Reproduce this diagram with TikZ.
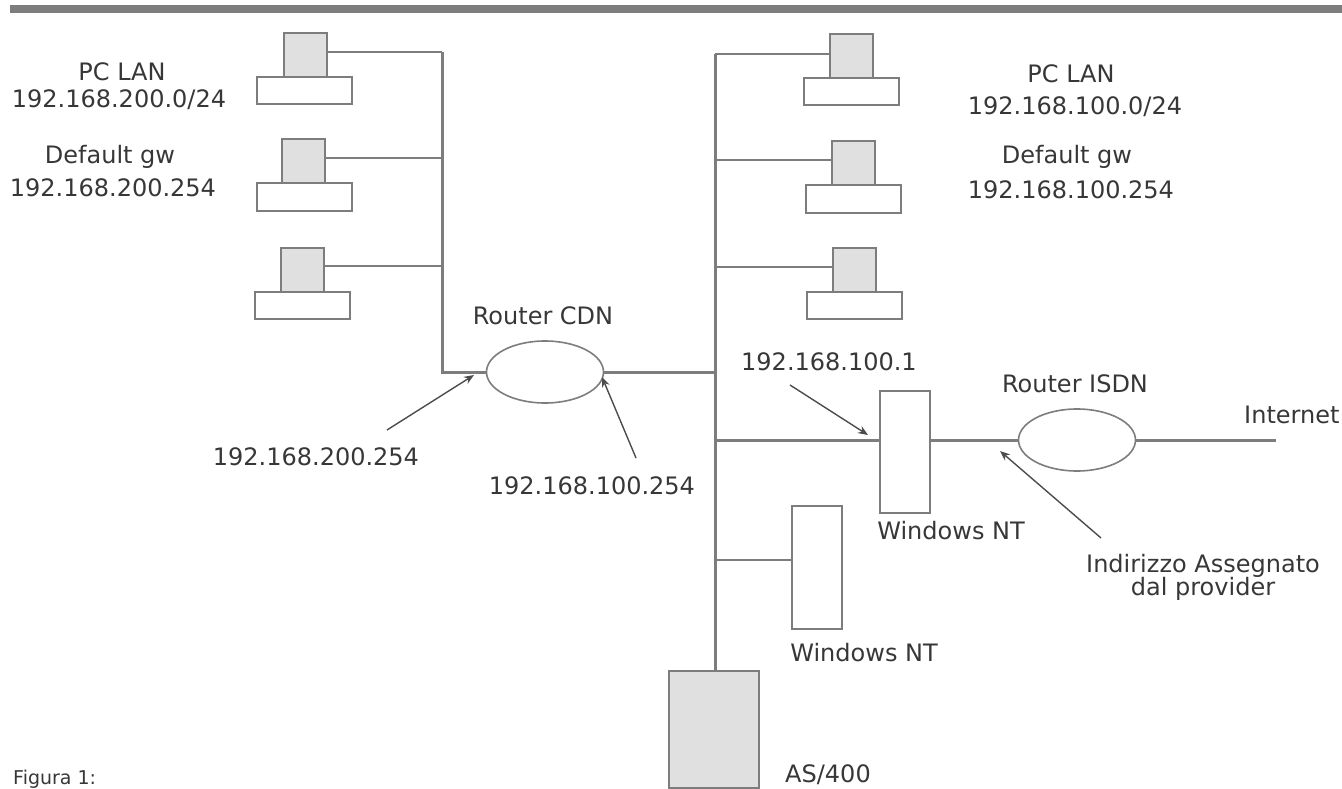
\documentclass[tikz,border=0pt]{standalone}
\usepackage{fontspec}
\setmainfont{DejaVu Sans}
\usepackage{xcolor}
\usetikzlibrary{shapes.geometric, arrows.meta, positioning}
\definecolor{wiregray}{RGB}{125,125,125}
\definecolor{boxgray}{RGB}{224,224,224}
\definecolor{textgray}{RGB}{55,55,55}

\begin{document}
\begin{tikzpicture}[
    x=1pt, y=-1pt,
    device/.style={rectangle, draw=wiregray, fill=#1, line width=2pt, inner sep=0pt, outer sep=0pt},
    base/.style={device=white, minimum width=95pt, minimum height=27pt},
    monitor/.style={device=boxgray, minimum width=43pt, minimum height=44pt},
    server/.style={device=white, minimum width=50pt},
    router/.style={ellipse, draw=wiregray, fill=white, line width=1.6pt, inner sep=0pt, outer sep=0pt, minimum width=117pt, minimum height=62pt},
    wire/.style={draw=wiregray, line width=2pt},
    trunk/.style={draw=wiregray, line width=3pt},
    pointer/.style={-{Stealth[length=10pt,width=8pt]}, draw=textgray!70!wiregray, line width=1.4pt},
    label/.style={font=\fontsize{24}{27}\selectfont, text=textgray, inner sep=0pt},
]
    \useasboundingbox (0,0) rectangle (1342,789);

    % Top rule
    \fill[wiregray] (10,5) rectangle (1342,13);

    % Left PCs
    \node[base] (base1) at (304.5,91) {};
    \node[monitor, above=0pt of base1, xshift=1pt] (mon1) {};
    \node[base] (base2) at (304,197) {};
    \node[monitor, above=0pt of base2, xshift=-1pt] (mon2) {};
    \node[base] (base3) at (302,305) {};
    \node[monitor, above=0pt of base3] (mon3) {};

    % Right PCs
    \node[base] (base4) at (851.5,92) {};
    \node[monitor, above=0pt of base4] (mon4) {};
    \node[base] (base5) at (853,199) {};
    \node[monitor, above=0pt of base5] (mon5) {};
    \node[base] (base6) at (854,305.5) {};
    \node[monitor, above=0pt of base6] (mon6) {};

    % Routers
    \node[router] (cdn) at (545,372) {};
    \node[router] (isdn) at (1077,440) {};

    % Servers
    \node[server, minimum height=122pt] (nt1) at (905,452) {};
    \node[server, minimum height=123pt] (nt2) at (817,567) {};
    \node[device=boxgray, minimum width=90pt, minimum height=117pt] (as) at (714,729.5) {};

    % Junctions and free ends
    \coordinate (ljoin1) at (442,52);
    \coordinate (ljoin2) at (442,158);
    \coordinate (ljoin3) at (442,266);
    \coordinate (rjoin1) at (715,54);
    \coordinate (rjoin2) at (715,160);
    \coordinate (rjoin3) at (715,267);
    \coordinate (rjoin4) at (715,372);
    \coordinate (rjoin5) at (715,440);
    \coordinate (rjoin6) at (715,560);
    \coordinate (inet) at (1276,440);

    % Left LAN
    \draw[trunk] (ljoin1) |- (cdn.west);
    \draw[wire] (ljoin1) -- (ljoin1 -| mon1.east);
    \draw[wire] (ljoin2) -- (ljoin2 -| mon2.east);
    \draw[wire] (ljoin3) -- (ljoin3 -| mon3.east);

    % Right LAN
    \draw[trunk] (rjoin1) -- (rjoin1 |- as.north);
    \draw[wire] (rjoin1) -- (rjoin1 -| mon4.west);
    \draw[wire] (rjoin2) -- (rjoin2 -| mon5.west);
    \draw[wire] (rjoin3) -- (rjoin3 -| mon6.west);
    \draw[trunk] (cdn.east) -- (rjoin4);
    \draw[trunk] (rjoin5) -- (rjoin5 -| nt1.west);
    \draw[wire] (rjoin6) -- (rjoin6 -| nt2.west);
    \draw[trunk] (nt1.east |- isdn.west) -- (isdn.west);
    \draw[trunk] (isdn.east) -- (inet);

    % Left texts
    \node[label] (lan2) at (122,72) {PC LAN};
    \node[label] (net2) at (119,100) {192.168.200.0/24};
    \node[label] (gwname2) at (110,157) {Default gw};
    \node[label] (gw2) at (113,188) {192.168.200.254};

    % Right texts
    \node[label] (lan1) at (1071,74) {PC LAN};
    \node[label] (net1) at (1075,107) {192.168.100.0/24};
    \node[label] (gwname1) at (1067,157) {Default gw};
    \node[label] (gw1) at (1071,190) {192.168.100.254};

    % Device names
    \node[label, above=16pt of cdn, xshift=-2pt] (cdnname) {Router CDN};
    \node[label, above=16pt of isdn, xshift=-2pt] (isdnname) {Router ISDN};
    \node[label] (ntname1) at (951,531) {Windows NT};
    \node[label] (ntname2) at (864,653) {Windows NT};
    \node[label] (asname) at (828,775) {AS/400};
    \node[label, anchor=west] (inetname) at (1244,415) {Internet};

    % Addresses
    \node[label] (addr1) at (316,457) {192.168.200.254};
    \node[label] (addr2) at (592,486) {192.168.100.254};
    \node[label] (addr3) at (829,362) {192.168.100.1};
    \node[label] (provider1) at (1203,566) {Indirizzo Assegnato};
    \node[label] (provider2) at (1203,589) {dal provider};

    % Pointers
    \coordinate (addr1end) at (387,430);
    \coordinate (addr1tip) at (474,375);
    \coordinate (addr2end) at (636,458);
    \coordinate (addr2tip) at (602,377);
    \coordinate (addr3end) at (790,385);
    \coordinate (addr3tip) at (868,435);
    \coordinate (provend) at (1101,538);
    \coordinate (provtip) at (1000,451);
    \draw[pointer] (addr1end) -- (addr1tip);
    \draw[pointer] (addr2end) -- (addr2tip);
    \draw[pointer] (addr3end) -- (addr3tip);
    \draw[pointer] (provend) -- (provtip);

    % Caption
    \node[font=\fontsize{19}{21}\selectfont, text=textgray, anchor=base west, inner sep=0pt] (caption) at (13,784) {Figura 1:};
\end{tikzpicture}
\end{document}
